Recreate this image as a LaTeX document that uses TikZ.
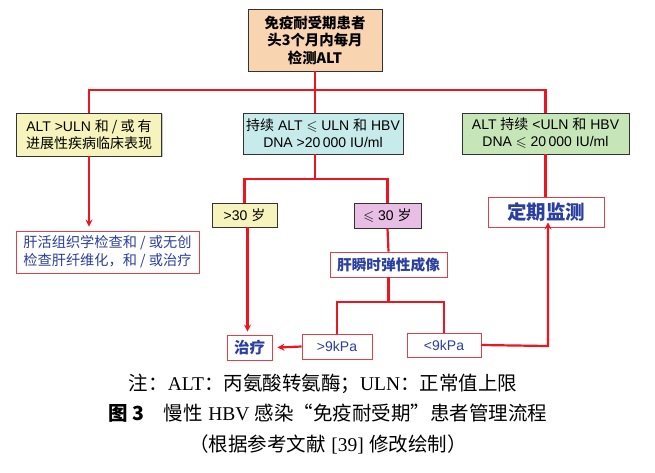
\documentclass[tikz,border=0pt]{standalone}
\usepackage{fontspec}
\usepackage{amssymb}
\usepackage{xcolor}
\setmainfont{Liberation Sans}
\newfontfamily\cjk{Noto Sans CJK SC}
\newfontfamily\serif{Liberation Serif}
\usetikzlibrary{arrows.meta,shadows}
\definecolor{peach}{HTML}{F9D4B1}
\definecolor{lemon}{HTML}{F6F4BC}
\definecolor{aqua}{HTML}{C6EBEA}
\definecolor{mint}{HTML}{C7E6B8}
\definecolor{lilac}{HTML}{E9BEE5}
\definecolor{flow}{HTML}{EE1420}
\definecolor{ink}{HTML}{2B3FA0}
\definecolor{rim}{HTML}{E0404A}

\begin{document}
\begin{tikzpicture}[x=1pt,y=-1pt,
    cbox/.style={draw=black!80,line width=0.8pt,align=center,inner sep=2pt,
        drop shadow={shadow xshift=1.3pt,shadow yshift=-1.3pt,opacity=0.45},
        font=\fontsize{14}{17}\selectfont},
    wbox/.style={draw=rim,fill=white,line width=0.8pt,align=center,inner sep=2pt,text=ink,
        drop shadow={shadow xshift=1.2pt,shadow yshift=-1.2pt,opacity=0.3},
        font=\fontsize{14}{17}\selectfont},
    link/.style={flow,line width=2.2pt},
    tip/.style={link,-{Stealth[length=7pt,width=7pt]}}]
    \useasboundingbox (0,0) rectangle (655,472);

    \node[cbox,fill=peach,minimum width=134pt,minimum height=62pt,
        font=\fontsize{14.4}{17.5}\selectfont\cjk\bfseries] (top) at (315,40)
        {免疫耐受期患者\\头3个月内每月\\检测ALT};
    \node[cbox,fill=lemon,minimum width=145pt,minimum height=43pt] (high) at (89,134.5)
        {ALT >ULN {\cjk 和 / 或 有}\\{\cjk 进展性疾病临床表现}};
    \node[cbox,fill=aqua,minimum width=160pt,minimum height=41pt] (keep) at (323,133.5)
        {{\cjk 持续} ALT $\leqslant$ ULN {\cjk 和} HBV\\DNA >20\,000 IU/ml};
    \node[cbox,fill=mint,minimum width=167pt,minimum height=41pt] (low) at (545.5,133.5)
        {ALT {\cjk 持续} <ULN {\cjk 和} HBV\\DNA $\leqslant$ 20\,000 IU/ml};

    \node[wbox,minimum width=183pt,minimum height=42pt,font=\fontsize{14.2}{18}\selectfont\cjk] (biopsy) at (107.5,252)
        {肝活组织学检查和 / 或无创\\检查肝纤维化，和 / 或治疗};
    \node[cbox,fill=lemon,minimum width=65pt,minimum height=24pt] (old) at (244.5,215)
        {>30 {\cjk 岁}};
    \node[cbox,fill=lilac,minimum width=67pt,minimum height=25pt] (young) at (387.5,215.5)
        {$\leqslant$ 30 {\cjk 岁}};
    \node[wbox,minimum width=117pt,minimum height=25pt,font=\fontsize{14.7}{16}\selectfont\cjk\bfseries] (scan) at (388.5,264.5)
        {肝瞬时弹性成像};
    \node[wbox,minimum width=116pt,minimum height=30pt,font=\fontsize{19.5}{21}\selectfont\cjk\bfseries] (watch) at (546,212)
        {定期监测};

    \node[wbox,minimum width=45pt,minimum height=25pt,font=\fontsize{15.5}{17}\selectfont\cjk\bfseries] (treat) at (249.5,347.5)
        {治疗};
    \node[wbox,minimum width=70pt,minimum height=25pt] (stiff) at (337,346.5) {>9kPa};
    \node[wbox,minimum width=74pt,minimum height=24pt] (soft) at (444,345) {<9kPa};

    \coordinate (bar) at (0,90);
    \coordinate (fork) at (0,179);
    \coordinate (split) at (0,302);
    \coordinate (turn) at (548,346);

    \draw[link] (top.south) -- (top.south |- bar);
    \draw[link] (high.north) -- (high.north |- bar) -- (low.north |- bar) -- (low.north);
    \draw[link] (top.south |- bar) -- (top.south |- keep.north);
    \draw[tip] (high.south) -- ([yshift=4pt]high.south |- biopsy.north);

    \draw[link] (keep.south -| top.south) -- (top.south |- fork);
    \draw[link] (old.north) -- (old.north |- fork) -- (young.north |- fork) -- (young.north);
    \draw[tip] ([xshift=3pt]old.south) -- ([xshift=3pt,yshift=3pt]old.south |- treat.north);
    \draw[link] (young.south) -- (scan.north);

    \draw[link] (scan.south) -- (scan.south |- split);
    \draw[link] (stiff.north) -- (stiff.north |- split) -- (soft.north |- split) -- (soft.north);
    \draw[tip] (stiff.west) -- ([xshift=5pt]treat.east);
    \draw[tip] (soft.east) -- (turn) -- ([yshift=5pt]turn |- watch.south);
    \draw[link] (low.south) -- (low.south |- watch.north);

    \node[font=\fontsize{19.5}{22}\selectfont] (note) at (323,384)
        {{\cjk 注：}{\serif ALT}{\cjk ：丙氨酸转氨酶；}{\serif ULN}{\cjk ：正常值上限}};
    \node[font=\fontsize{19.5}{22}\selectfont] (title) at (328,413)
        {{\cjk\bfseries 图 3}\quad{\cjk 慢性} {\serif HBV} {\cjk 感染“免疫耐受期”患者管理流程}};
    \node[font=\fontsize{19.5}{22}\selectfont] (source) at (328,444)
        {{\cjk （根据参考文献} {\serif [39]} {\cjk 修改绘制）}};
\end{tikzpicture}
\end{document}
